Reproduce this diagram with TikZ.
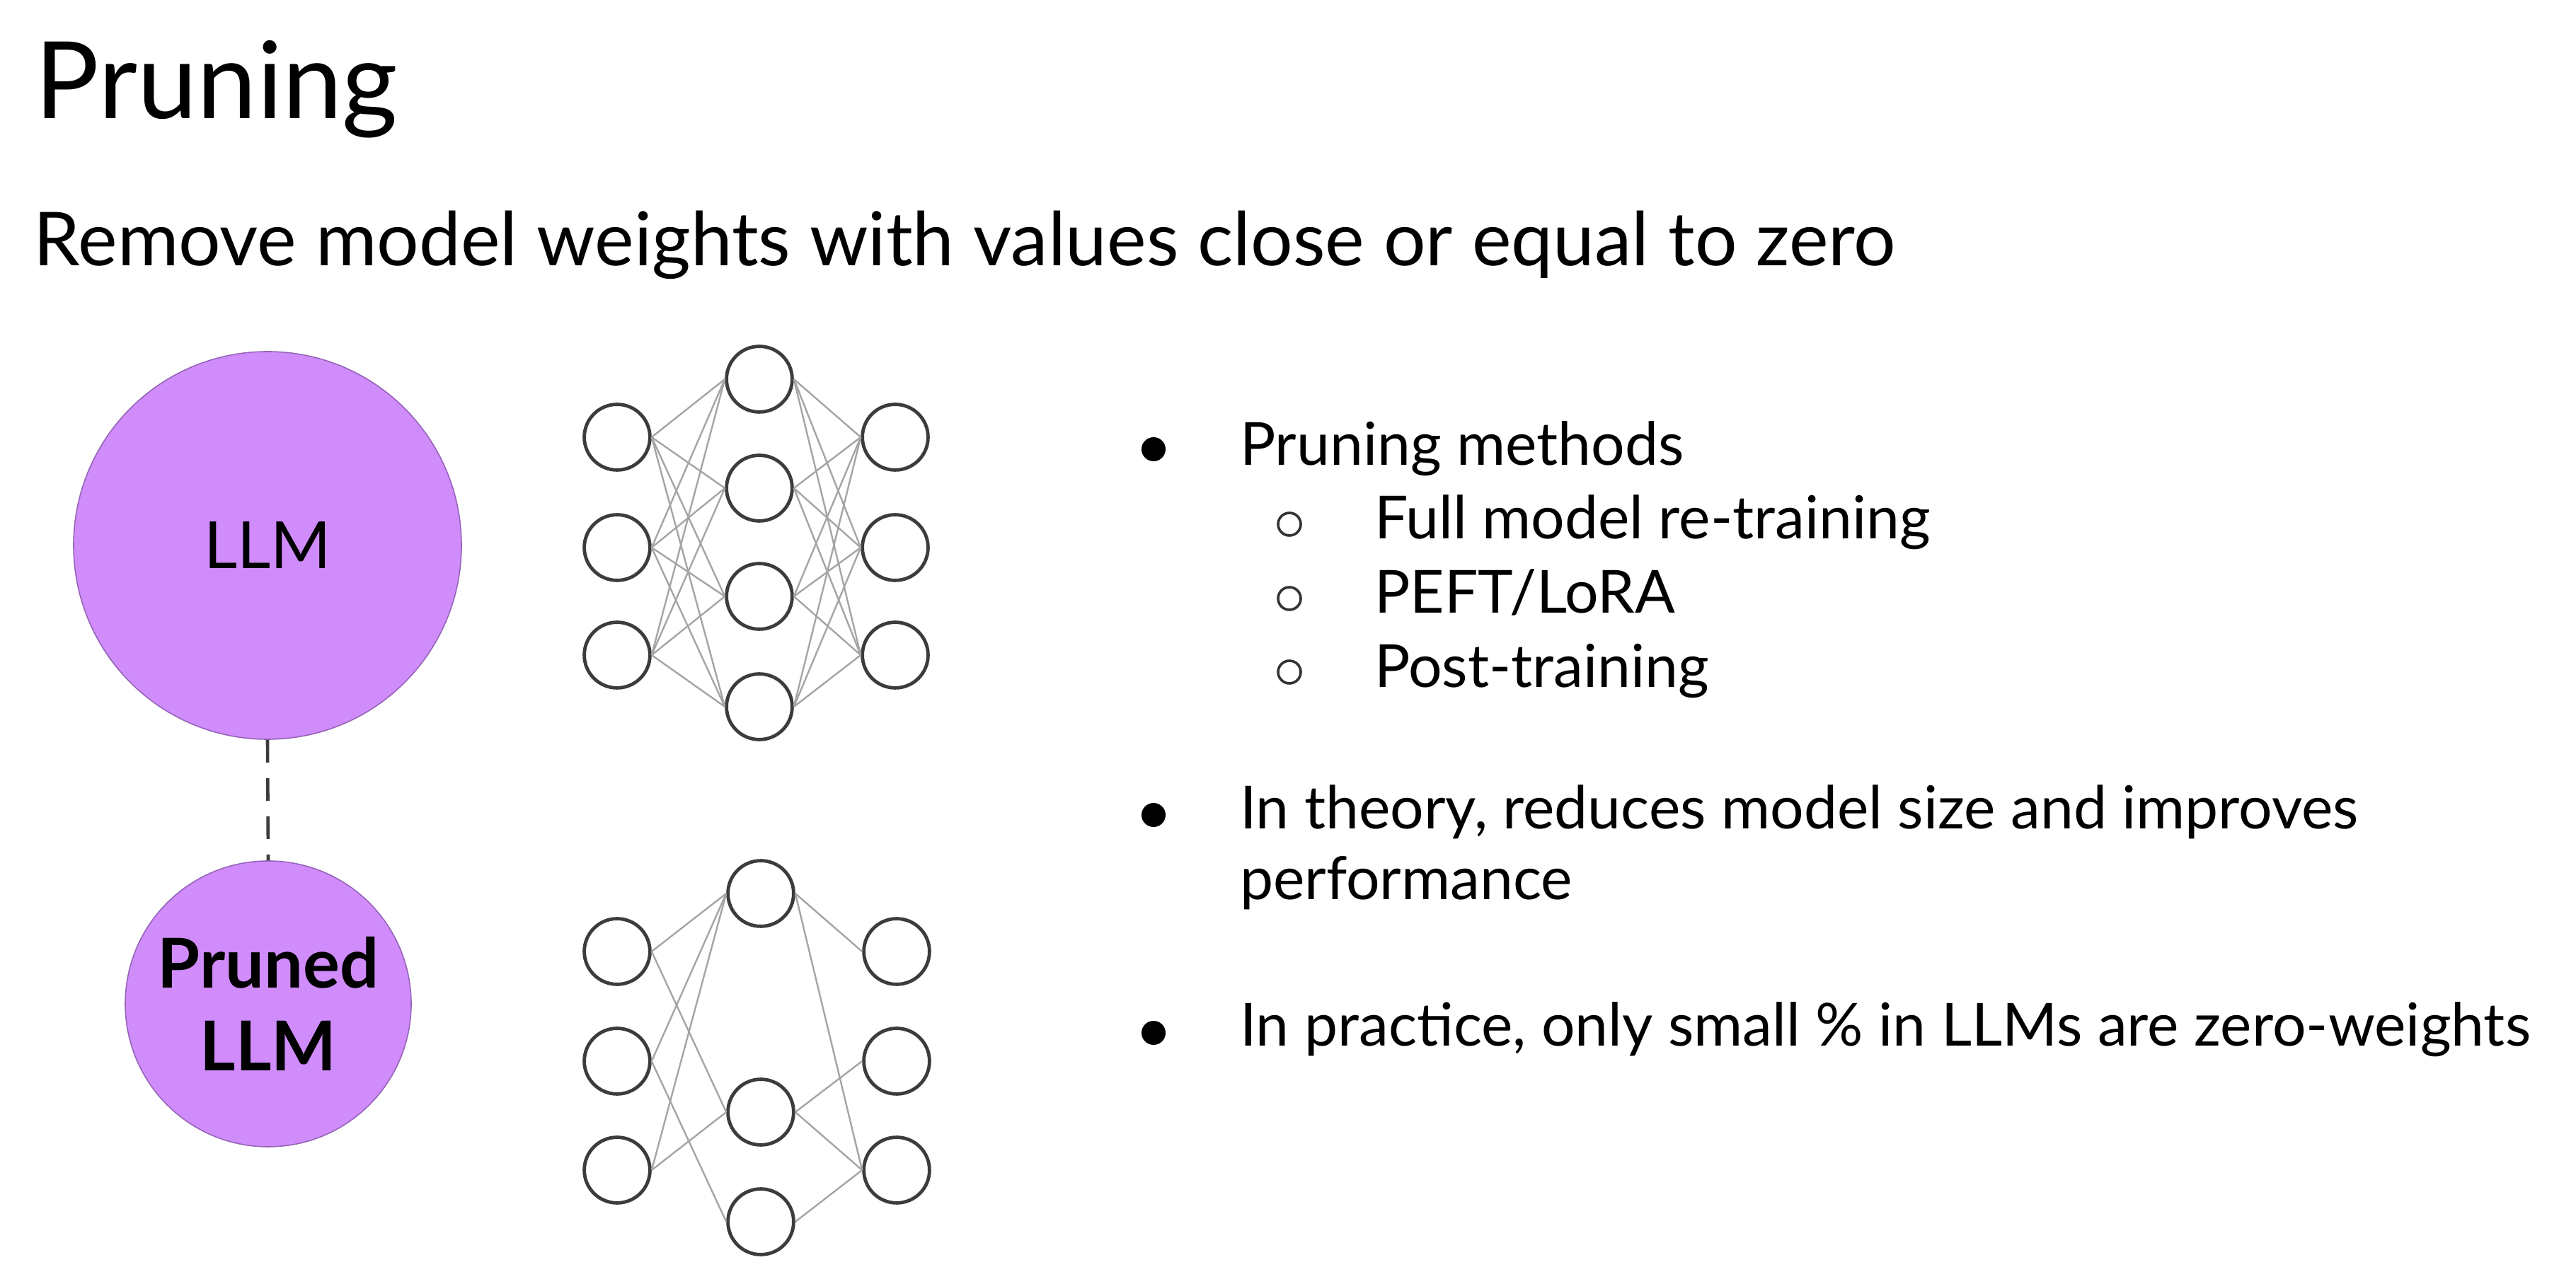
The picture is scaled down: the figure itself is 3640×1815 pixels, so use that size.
\documentclass[tikz,border=0pt]{standalone}
\usepackage{fontspec}
\setmainfont{Lato}
\definecolor{llmfill}{RGB}{208,140,251}
\definecolor{llmedge}{RGB}{150,100,185}
\definecolor{neurondraw}{RGB}{60,60,60}
\definecolor{wiregray}{RGB}{165,165,165}
\begin{document}
\begin{tikzpicture}[x=0.25pt,y=-0.25pt,
  neuron/.style={circle, draw=neurondraw, line width=1.2pt, minimum size=23.2pt, inner sep=0pt},
  wire/.style={draw=wiregray, line width=0.6pt},
  model/.style={circle, fill=llmfill, draw=llmedge, line width=0.4pt, inner sep=0pt, align=center},
  txt/.style={anchor=base west, inner sep=0pt, outer sep=0pt},
  dot/.style={circle, fill=black, inner sep=0pt, minimum size=8.5pt},
  ring/.style={circle, draw=black!80, line width=0.9pt, inner sep=0pt, minimum size=8pt},
  body/.style={txt, font=\fontsize{21pt}{25pt}\selectfont}]
\useasboundingbox (0,0) rectangle (3640,1815);
\fill[white] (0,0) rectangle (3640,1815);

% headings
\node[txt, font=\fontsize{37.8pt}{45pt}\selectfont] (title) at (50,168) {Pruning};
\node[txt, font=\fontsize{26.3pt}{31pt}\selectfont] (subtitle) at (48,376) {Remove model weights with values close or equal to zero};

% models
\node[model, minimum size=137pt, font=\fontsize{23pt}{27pt}\selectfont] (llm) at (378,771) {LLM};
\node[model, minimum size=101pt, font=\bfseries\fontsize{24.3pt}{29.3pt}\selectfont] (pruned) at (379,1419) {Pruned\\LLM};
\draw[draw=neurondraw, line width=1.15pt, dash pattern=on 8pt off 5.5pt] (llm.south) -- (pruned.north);

% full network
\foreach \n/\y in {1/618, 2/774, 3/926} {
  \node[neuron] (ai\n) at (872,\y) {};
  \node[neuron] (ao\n) at (1265,\y) {};
}
\foreach \n/\y in {1/536, 2/690, 3/843, 4/999}
  \node[neuron] (ah\n) at (1073,\y) {};
\foreach \i in {1,2,3}
  \foreach \h in {1,2,3,4} {
    \draw[wire] (ai\i.east) -- (ah\h.west);
    \draw[wire] (ah\h.east) -- (ao\i.west);
  }

% pruned network
\foreach \n/\y in {1/1345, 2/1500, 3/1654} {
  \node[neuron] (bi\n) at (872,\y) {};
  \node[neuron] (bo\n) at (1267,\y) {};
}
\node[neuron] (bh1) at (1075,1263) {};
\node[neuron] (bh3) at (1075,1572) {};
\node[neuron] (bh4) at (1075,1727) {};
\foreach \a/\b in {bi1/bh1, bi2/bh1, bi3/bh1, bi1/bh3, bi3/bh3, bi2/bh4,
                   bh1/bo1, bh1/bo3, bh3/bo2, bh3/bo3, bh4/bo3}
  \draw[wire] (\a.east) -- (\b.west);

% bullet list
\node[dot] (b1) at (1630,635) {};
\node[body] (t1) at (1752,658) {Pruning methods};
\node[ring] (s1) at (1822,741) {};
\node[body] (t11) at (1942,762) {Full model re-training};
\node[ring] (s2) at (1822,846) {};
\node[body] (t12) at (1942,867) {PEFT/LoRA};
\node[ring] (s3) at (1822,950) {};
\node[body] (t13) at (1942,972) {Post-training};
\node[dot] (b2) at (1630,1152) {};
\node[body] (t2) at (1752,1172) {In theory, reduces model size and improves};
\node[body] (t2b) at (1752,1272) {performance};
\node[dot] (b3) at (1630,1460) {};
\node[body] (t3) at (1752,1479) {In practice, only small \% in LLMs are zero-weights};
\end{tikzpicture}
\end{document}
